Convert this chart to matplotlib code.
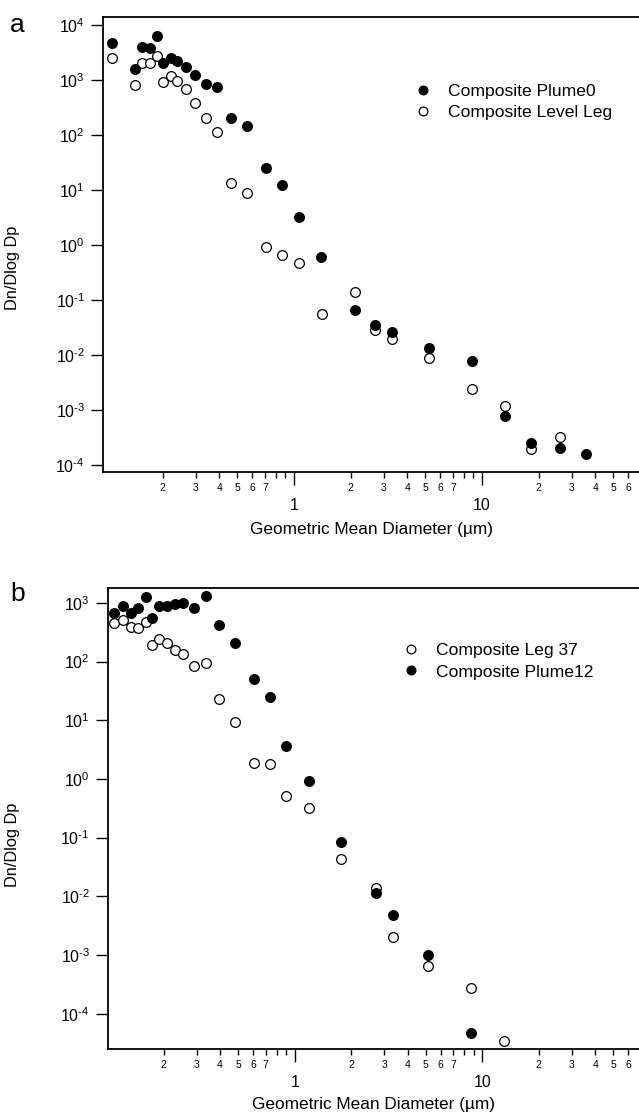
import numpy as np
import matplotlib
matplotlib.use("Agg")
import matplotlib.pyplot as plt
from matplotlib.ticker import FixedLocator, FuncFormatter

plt.rcParams["font.family"] = ["Liberation Sans", "DejaVu Sans"]
plt.rcParams["mathtext.fontset"] = "custom"
plt.rcParams["mathtext.rm"] = "Liberation Sans"
plt.rcParams["axes.unicode_minus"] = False

# panel a
a_plume_x = [0.107, 0.143, 0.155, 0.171, 0.186, 0.202, 0.221, 0.240, 0.267, 0.297,
             0.339, 0.391, 0.462, 0.562, 0.71, 0.86, 1.068, 1.40, 2.10, 2.69,
             3.34, 5.2, 8.8, 13.2, 18.2, 26.1, 35.6]
a_plume_y = [4650, 1585, 3935, 3770, 6310, 2010, 2480, 2215, 1745, 1233,
             834, 755, 201, 148, 25.5, 12.3, 3.19, 0.61, 0.066, 0.035,
             0.0265, 0.0132, 0.0078, 7.8e-4, 2.5e-4, 2.07e-4, 1.58e-4]
a_level_x = [0.107, 0.143, 0.155, 0.171, 0.186, 0.202, 0.221, 0.240, 0.267, 0.297,
             0.339, 0.391, 0.462, 0.562, 0.71, 0.86, 1.068, 1.41, 2.10, 2.69,
             3.34, 5.2, 8.8, 13.2, 18.2, 26.1]
a_level_y = [2480, 811, 2010, 2010, 2766, 933, 1183, 958, 677, 377,
             201, 115, 13.6, 8.7, 0.91, 0.66, 0.465, 0.0556, 0.138, 0.0285,
             0.0195, 0.0087, 0.0024, 0.0012, 1.93e-4, 3.27e-4]

# panel b
b_plume_x = [0.109, 0.122, 0.134, 0.1465, 0.161, 0.174, 0.19, 0.2075, 0.23, 0.255,
             0.292, 0.336, 0.393, 0.482, 0.604, 0.735, 0.898, 1.188, 1.77, 2.71,
             3.34, 5.15, 8.72]
b_plume_y = [681, 885, 665, 809, 1276, 560, 896, 896, 946, 1009,
             828, 1312, 420, 210, 50.6, 25.2, 3.65, 0.925, 0.083, 0.0112,
             0.00475, 9.9e-4, 4.6e-5]
b_leg_x = [0.109, 0.122, 0.134, 0.1465, 0.161, 0.174, 0.19, 0.2075, 0.23, 0.255,
           0.292, 0.336, 0.393, 0.482, 0.604, 0.735, 0.898, 1.188, 1.77, 2.71,
           3.34, 5.15, 8.72, 13.0]
b_leg_y = [460, 512, 393, 369, 478, 192, 243, 205, 158, 133,
           84, 95.8, 23.1, 9.25, 1.9, 1.8, 0.513, 0.316, 0.0434, 0.0137,
           0.00206, 6.6e-4, 2.79e-4, 3.44e-5]

minor_ticks = [d * m for d in (0.1, 1, 10) for m in range(2, 10)]


def minor_fmt(v, pos):
    lead = int(round(v / 10 ** np.floor(np.log10(v) + 1e-9)))
    return str(lead) if lead <= 7 else ""


def major_fmt(v, pos):
    return "%g" % v


def ylog_fmt(v, pos):
    k = int(round(np.log10(v)))
    exp = r"\text{-}%d" % -k if k < 0 else "%d" % k
    return r"$\mathdefault{10^{%s}}$" % exp


def style_axes(ax, xlim, ylim, ylab_xy, xlab_y):
    ax.set_xscale("log")
    ax.set_yscale("log")
    ax.set_xlim(*xlim)
    ax.set_ylim(*ylim)
    ax.xaxis.set_major_locator(FixedLocator([1, 10]))
    ax.xaxis.set_major_formatter(FuncFormatter(major_fmt))
    ax.xaxis.set_minor_locator(FixedLocator(minor_ticks))
    ax.xaxis.set_minor_formatter(FuncFormatter(minor_fmt))
    ax.yaxis.set_major_locator(FixedLocator([10.0 ** k for k in range(-4, 5)]))
    ax.yaxis.set_major_formatter(FuncFormatter(ylog_fmt))
    ax.yaxis.set_minor_locator(FixedLocator([]))
    ax.tick_params(axis="x", which="major", direction="out", length=9, width=1.0,
                   labelsize=11.5, pad=9.5)
    ax.tick_params(axis="x", which="minor", direction="out", length=4, width=1.0,
                   labelsize=7.5, pad=4)
    ax.tick_params(axis="y", which="major", direction="out", length=9, width=1.0,
                   labelsize=11.5, pad=4)
    for side in ("top", "left", "bottom"):
        ax.spines[side].set_linewidth(1.3)
    ax.spines["right"].set_visible(False)
    ax.set_xlabel("Geometric Mean Diameter (µm)", fontsize=12.4)
    ax.xaxis.set_label_coords(0.5, xlab_y)
    ax.set_ylabel("Dn/Dlog Dp", fontsize=11.8)
    ax.yaxis.set_label_coords(*ylab_xy)


fig = plt.figure(figsize=(6.39, 11.15), dpi=100)
ax1 = fig.add_axes([0.1612, 0.5767, 0.8388, 0.4081])
ax2 = fig.add_axes([0.169, 0.0592, 0.831, 0.4135])

mk = dict(linestyle="none", marker="o", markersize=7.0, markeredgewidth=0.9,
          markeredgecolor="black")

h_open_a, = ax1.plot(a_level_x, a_level_y, markerfacecolor="white",
                     label="Composite Level Leg", zorder=3, **mk)
h_fill_a, = ax1.plot(a_plume_x, a_plume_y, markerfacecolor="black",
                     label="Composite Plume0", zorder=4, **mk)
style_axes(ax1, (0.0964, 68.4), (7.5e-5, 1.4e4), (-0.155, 0.448), -0.11)
ax1.legend(handles=[h_fill_a, h_open_a], loc="upper left",
           bbox_to_anchor=(0.5815, 0.853), frameon=False, fontsize=12.6,
           borderpad=0, borderaxespad=0, handlelength=1.0, handletextpad=0.9,
           labelspacing=0.32, markerscale=0.9)

h_open_b, = ax2.plot(b_leg_x, b_leg_y, markerfacecolor="white",
                     label="Composite Leg 37", zorder=3, **mk)
h_fill_b, = ax2.plot(b_plume_x, b_plume_y, markerfacecolor="black",
                     label="Composite Plume12", zorder=4, **mk)
style_axes(ax2, (0.101, 68.4), (2.5e-5, 1795), (-0.165, 0.4425), -0.104)
ax2.legend(handles=[h_open_b, h_fill_b], loc="upper left",
           bbox_to_anchor=(0.555, 0.881), frameon=False, fontsize=12.6,
           borderpad=0, borderaxespad=0, handlelength=1.0, handletextpad=0.9,
           labelspacing=0.36, markerscale=0.9)

fig.text(17 / 639, 1 - 25 / 1115, "a", fontsize=19, ha="center", va="center")
fig.text(18 / 639, 1 - 594 / 1115, "b", fontsize=19, ha="center", va="center")

fig.savefig("out.png", dpi=100)
